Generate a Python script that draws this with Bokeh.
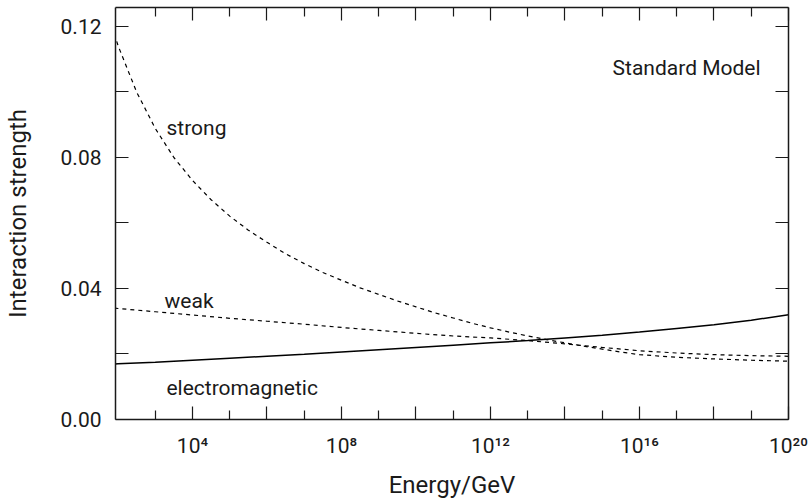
from bokeh.plotting import figure
from bokeh.models import FixedTicker, LogAxis, LinearAxis, Range1d, Label
from bokeh.embed import file_html
from bokeh.resources import INLINE

# ---- data ----
energy = [80, 1e2, 1e3, 1e4, 1e5, 1e6, 1e7, 1e8, 1e9, 1e10, 1e11, 1e12,
          1e13, 1e14, 1e15, 1e16, 1e17, 1e18, 1e19, 1e20]
strong_energy = [80, 1e2, 3.16e2, 1e3, 3.16e3, 1e4, 3.16e4, 1e5, 3.16e5, 1e6,
                 3.16e6, 1e7, 3.16e7, 1e8, 3.16e8, 1e9, 3.16e9, 1e10, 3.16e10,
                 1e11, 3.16e11, 1e12, 3.16e12, 1e13, 3.16e13, 1e14, 3.16e14,
                 1e15, 3.16e15, 1e16, 1e17, 1e18, 1e19, 1e20]
strong = [0.1178, 0.1142, 0.1000, 0.0889, 0.0800, 0.0730, 0.0671, 0.0621, 0.0578, 0.0541,
          0.0506, 0.0476, 0.0449, 0.0425, 0.0402, 0.0382, 0.0362, 0.0344, 0.0326,
          0.0310, 0.0294, 0.0280, 0.0267, 0.0255, 0.0244, 0.0234, 0.0224,
          0.0215, 0.0206, 0.0198, 0.0190, 0.0185, 0.0181, 0.0178]
weak = [0.0340, 0.0339, 0.0329, 0.0319, 0.0309, 0.0300, 0.0291, 0.0281, 0.0272, 0.0263,
        0.0255, 0.0249, 0.0241, 0.0231, 0.0220, 0.0210, 0.0203, 0.0198, 0.0195, 0.0193]
electromagnetic = [0.0169, 0.0170, 0.0175, 0.0181, 0.0187, 0.0193, 0.0199, 0.0206, 0.0213,
                   0.0220, 0.0227, 0.0234, 0.0241, 0.0249, 0.0257, 0.0267, 0.0278, 0.0289,
                   0.0303, 0.0320]

x_major = [1e4, 1e6, 1e8, 1e10, 1e12, 1e14, 1e16, 1e18, 1e20]
x_minor = [1e3, 1e5, 1e7, 1e9, 1e11, 1e13, 1e15, 1e17, 1e19]
x_labels = {1e4: "10\u2074", 1e6: "", 1e8: "10\u2078", 1e10: "", 1e12: "10\u00b9\u00b2",
            1e14: "", 1e16: "10\u00b9\u2076", 1e18: "", 1e20: "10\u00b2\u2070"}
y_major = [0.0, 0.02, 0.04, 0.06, 0.08, 0.10, 0.12]
y_labels = {0.0: "0.00", 0.02: "", 0.04: "0.04", 0.06: "", 0.08: "0.08", 0.10: "", 0.12: "0.12"}

label_texts = ["strong", "weak", "electromagnetic", "Standard Model"]
label_x = [2.0e3, 1.78e3, 2.0e3, 1.78e19]
label_y = [0.0891, 0.0362, 0.0096, 0.1073]
label_align = ["left", "left", "left", "right"]

FONT = "Roboto"
INK = "#1a1a1a"

p = figure(width=812, height=502, x_axis_type="log",
           x_range=Range1d(10 ** 1.933, 1e20), y_range=Range1d(0, 0.1258),
           output_backend="svg", toolbar_location=None,
           min_border_left=115, min_border_right=24, min_border_top=7,
           min_border_bottom=83)
p.grid.visible = False
p.outline_line_color = None
p.background_fill_color = "white"
p.border_fill_color = "white"

p.line(strong_energy, strong, line_color="black", line_width=1.2, line_dash="4 4")
p.line(energy, weak, line_color="black", line_width=1.2, line_dash="4 4")
p.line(energy, electromagnetic, line_color="black", line_width=1.5)

xt = FixedTicker(ticks=x_major, minor_ticks=x_minor)
yt = FixedTicker(ticks=y_major, minor_ticks=[])


def style(ax):
    ax.axis_line_color = INK
    ax.axis_line_width = 1.5
    ax.major_tick_line_color = INK
    ax.major_tick_line_width = 1.2
    ax.minor_tick_line_color = INK
    ax.minor_tick_line_width = 1.2
    ax.major_tick_in = 13
    ax.major_tick_out = 0
    ax.minor_tick_in = 9
    ax.minor_tick_out = 0
    ax.major_label_text_font = FONT
    ax.major_label_text_font_size = "21px"
    ax.major_label_text_color = INK
    ax.axis_label_text_font = FONT
    ax.axis_label_text_font_size = "24px"
    ax.axis_label_text_font_style = "normal"
    ax.axis_label_text_color = INK


xa = p.xaxis[0]
xa.ticker = xt
xa.major_label_overrides = x_labels
xa.axis_label = "Energy/GeV"
style(xa)
xa.major_label_standoff = 14
xa.axis_label_standoff = 10

ya = p.yaxis[0]
ya.ticker = yt
ya.major_label_overrides = y_labels
ya.axis_label = "Interaction strength"
style(ya)
ya.major_label_standoff = 14
ya.axis_label_standoff = 26

top = LogAxis(ticker=xt, major_label_overrides={k: "" for k in x_major})
style(top)
top.major_label_standoff = 0
top.major_label_text_font_size = "1px"
p.add_layout(top, "above")

right = LinearAxis(ticker=yt, major_label_overrides={k: "" for k in y_major})
style(right)
right.major_label_standoff = 0
right.major_label_text_font_size = "1px"
p.add_layout(right, "right")

for t, x, y, a in zip(label_texts, label_x, label_y, label_align):
    p.add_layout(Label(x=x, y=y, text=t, text_align=a, text_baseline="alphabetic",
                       text_font=FONT, text_font_size="21px", text_color=INK))

open("out.html", "w").write(file_html(p, INLINE))
